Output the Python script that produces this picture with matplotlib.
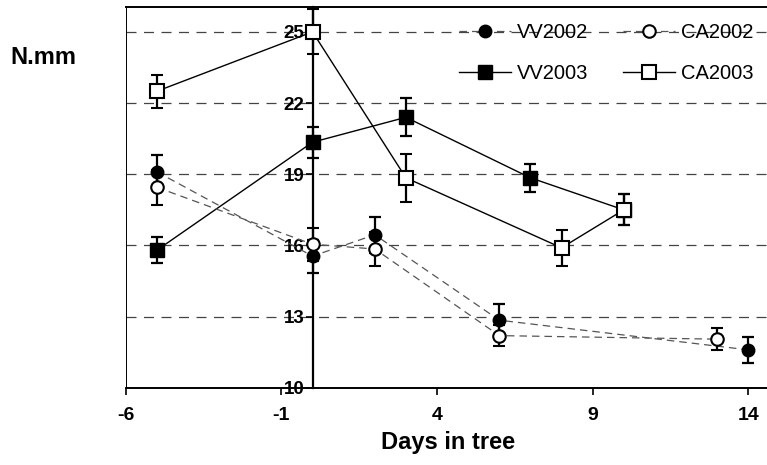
"""Days in tree vs N.mm for VV / CA, 2002 and 2003."""

import matplotlib.pyplot as plt
from matplotlib.lines import Line2D

plt.rcParams["font.family"] = ["Liberation Sans", "DejaVu Sans"]
plt.rcParams["axes.unicode_minus"] = False

# data
VV2002_X = [-5, 0, 2, 6, 14]
VV2002_Y = [19.1, 15.55, 16.45, 12.85, 11.6]
VV2002_E = [0.7, 0.7, 0.75, 0.7, 0.55]

CA2002_X = [-5, 0, 2, 6, 13]
CA2002_Y = [18.45, 16.05, 15.85, 12.2, 12.05]
CA2002_E = [0.75, 0.7, 0.7, 0.45, 0.45]

VV2003_X = [-5, 0, 3, 7, 10]
VV2003_Y = [15.8, 20.35, 21.4, 18.85, 17.5]
VV2003_E = [0.55, 0.65, 0.8, 0.6, 0.65]

CA2003_X = [-5, 0, 3, 8, 10]
CA2003_Y = [22.5, 25.0, 18.85, 15.9, 17.5]
CA2003_E = [0.7, 0.95, 1.0, 0.75, 0.65]

X_TICKS = [-6, -1, 4, 9, 14]
Y_TICKS = [10, 13, 16, 19, 22, 25]
GRID_Y = [13, 16, 19, 22, 25]

DASH = (0, (6, 4))
STYLES = {
    "VV2002": dict(color="#555555", lw=0.9, ls=DASH, marker="o", ms=9, mfc="black", mec="black"),
    "CA2002": dict(color="#555555", lw=0.9, ls=DASH, marker="o", ms=9, mfc="white", mec="black", mew=1.5),
    "VV2003": dict(color="black", lw=1.0, ls="-", marker="s", ms=10, mfc="black", mec="black"),
    "CA2003": dict(color="black", lw=1.0, ls="-", marker="s", ms=10, mfc="white", mec="black", mew=1.5),
}


def main() -> None:
    fig = plt.figure(figsize=(7.67, 4.65), dpi=100, facecolor="white")
    ax = fig.add_axes([0.164, 0.166, 0.84, 0.819])
    ax.set_xlim(-6, 14.7)
    ax.set_ylim(10, 26.05)

    for gy in GRID_Y:
        ax.axhline(gy, color="#444444", lw=0.9, ls=(0, (8, 6)), zorder=1)

    err_kw = dict(ecolor="black", elinewidth=1.6, capsize=4, capthick=1.6)
    series = [
        ("VV2002", VV2002_X, VV2002_Y, VV2002_E, 3),
        ("CA2002", CA2002_X, CA2002_Y, CA2002_E, 4),
        ("VV2003", VV2003_X, VV2003_Y, VV2003_E, 3),
        ("CA2003", CA2003_X, CA2003_Y, CA2003_E, 5),
    ]
    for name, xs, ys, es, z in series:
        ax.errorbar(xs, ys, yerr=es, zorder=z, **STYLES[name], **err_kw)

    # y axis crosses at x = 0, the plot frame stays at x = -6
    ax.spines["left"].set_position(("data", 0))
    ax.spines["left"].set_linewidth(1.6)
    ax.spines["right"].set_visible(False)
    ax.spines["top"].set_linewidth(1.4)
    ax.spines["bottom"].set_linewidth(1.4)
    ax.axvline(-6, color="black", lw=1.4, zorder=2)

    ax.set_xticks(X_TICKS)
    ax.set_yticks(Y_TICKS)
    ax.tick_params(axis="y", direction="out", length=5, width=1.2, labelsize=13.5, pad=1)
    ax.tick_params(axis="x", direction="out", length=5, width=1.2, labelsize=14, pad=9)
    for lbl in ax.get_xticklabels() + ax.get_yticklabels():
        lbl.set_fontweight("bold")

    order = ["VV2002", "VV2003", "CA2002", "CA2003"]
    handles = [Line2D([], [], label=n, **STYLES[n]) for n in order]
    ax.legend(handles=handles, ncol=2, loc="upper right", bbox_to_anchor=(1.003, 1.005),
              frameon=False, fontsize=14.5, handlelength=2.6, columnspacing=1.7,
              labelspacing=1.1, handletextpad=0.3)

    fig.text(0.013, 0.862, "N.mm", fontsize=17, fontweight="bold")
    ax.set_xlabel("Days in tree", fontsize=17, fontweight="bold", labelpad=5)

    fig.savefig("out.png", dpi=100, facecolor="white")
    plt.close(fig)


if __name__ == "__main__":
    main()
